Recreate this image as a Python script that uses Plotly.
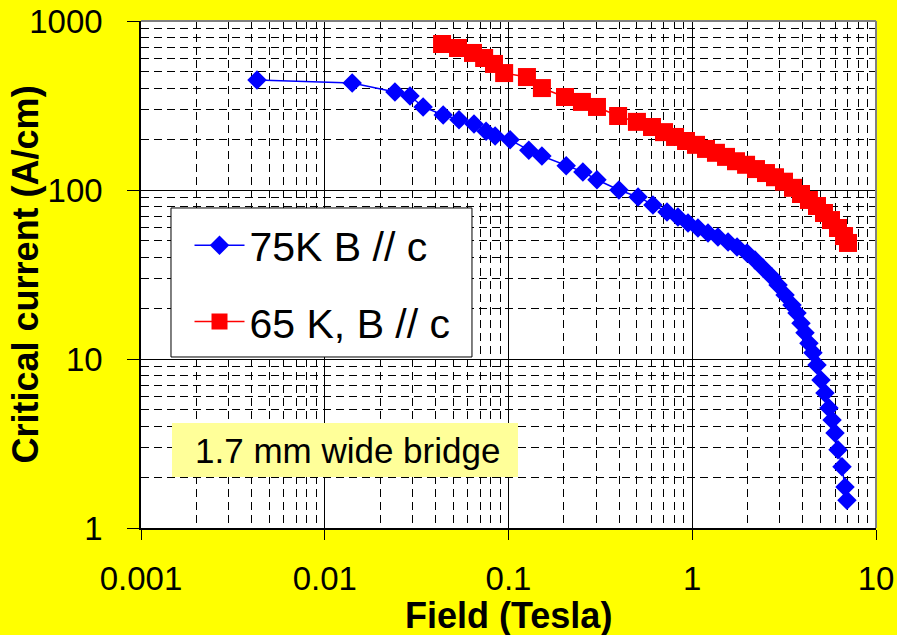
import plotly.graph_objects as go

# Critical current vs applied field, 1.7 mm wide bridge
field_75k = [0.00428, 0.0141, 0.0241, 0.0291, 0.0343, 0.0441, 0.0538, 0.0649, 0.0755,
             0.0846, 0.102, 0.129, 0.152, 0.206, 0.254, 0.303, 0.399, 0.507, 0.611,
             0.729, 0.836, 0.948, 1.074, 1.218, 1.380, 1.566, 1.753, 1.986, 2.195,
             2.427, 2.716, 2.930, 3.199, 3.490, 3.716, 3.907, 4.109, 4.315, 4.538,
             4.775, 5.018, 5.275, 5.546, 5.765, 5.984, 6.21, 6.53, 6.78, 6.95]
ic_75k = [448, 430, 380, 360, 310, 278, 260, 246, 223,
          209, 198, 172, 159, 139, 128, 115, 100, 91, 81.5,
          74.1, 69.2, 63.8, 59.6, 55.7, 52.7, 49.2, 46.0, 42.4, 38.5,
          34.5, 30.6, 27.4, 23.9, 20.9, 18.7, 16.3, 14.3, 12.4, 10.9,
          9.21, 7.51, 6.29, 5.13, 4.35, 3.65, 2.90, 2.30, 1.75, 1.46]

field_65k = [0.0435, 0.0531, 0.0641, 0.0737, 0.0834, 0.0947, 0.126, 0.152, 0.203,
             0.251, 0.303, 0.395, 0.500, 0.604, 0.702, 0.806, 0.925, 1.048, 1.188,
             1.346, 1.527, 1.730, 1.963, 2.223, 2.519, 2.820, 3.158, 3.533, 3.907,
             4.315, 4.775, 5.21, 5.69, 6.21, 6.70, 7.04]
ic_65k = [731, 692, 647, 604, 557, 492, 466, 401, 355,
          332, 310, 274, 253, 236, 220, 206, 195, 185, 175,
          166, 157, 148, 141, 133, 126, 119, 112, 103, 94.7,
          87.3, 80.4, 73.1, 66.4, 59.6, 53.4, 48.6]

x_ticks = [0.001, 0.01, 0.1, 1, 10]
x_tick_text = ["0.001", "0.01", "0.1", "1", "10"]
y_ticks = [1, 10, 100, 1000]
y_tick_text = ["1", "10", "100", "1000"]

FONT = "Liberation Sans, Arial, sans-serif"

fig = go.Figure()
fig.add_trace(go.Scatter(
    x=field_75k, y=ic_75k, mode="lines+markers", name="75K B // c",
    legendgroup="a",
    line=dict(color="#0000FF", width=1.5),
    marker=dict(symbol="diamond", size=15, color="#0000FF"),
))
fig.add_trace(go.Scatter(
    x=field_65k, y=ic_65k, mode="lines+markers", name="65 K, B // c",
    legendgroup="b",
    line=dict(color="#FF0000", width=1.5),
    marker=dict(symbol="square", size=18, color="#FF0000"),
))

grid_minor = dict(showgrid=True, dtick="D1", gridcolor="#000000", gridwidth=1,
                  griddash="8px,5px", ticklen=0)

fig.update_xaxes(
    type="log", range=[-3, 1], automargin=False,
    tickvals=x_ticks, ticktext=x_tick_text,
    ticks="outside", ticklen=10, tickcolor="#000000", tickwidth=1,
    tickfont=dict(family=FONT, size=33, color="#000000"),
    ticklabelstandoff=11,
    showline=True, linecolor="#000000", linewidth=1.5,
    showgrid=True, gridcolor="#000000", gridwidth=1,
    minor=grid_minor, zeroline=False,
)
fig.update_yaxes(
    type="log", range=[0, 3], automargin=False,
    tickvals=y_ticks, ticktext=y_tick_text,
    ticks="outside", ticklen=12, tickcolor="#000000", tickwidth=1,
    tickfont=dict(family=FONT, size=33, color="#000000"),
    ticklabelstandoff=18,
    showline=True, linecolor="#000000", linewidth=1.5,
    showgrid=True, gridcolor="#000000", gridwidth=1,
    minor=grid_minor, zeroline=False,
)

# plot-area frame (top and right edges), legend frame and label box
shapes = [
    dict(type="line", xref="paper", yref="paper", x0=0, x1=1, y0=1, y1=1,
         line=dict(color="#808080", width=2), layer="above"),
    dict(type="line", xref="paper", yref="paper", x0=1, x1=1, y0=0, y1=1,
         line=dict(color="#808080", width=2), layer="above"),
    dict(type="rect", xref="paper", yref="paper",
         x0=0.0408, x1=0.4503, y0=0.3373, y1=0.6312,
         line=dict(color="#000000", width=1), fillcolor="#FFFFFF", layer="above"),
    dict(type="rect", xref="paper", yref="paper",
         x0=0.0422, x1=0.5129, y0=0.1006, y1=0.2071,
         line=dict(width=0), fillcolor="#FFFF99", layer="above"),
]

annotations = [
    dict(text="1.7 mm wide bridge", xref="paper", yref="paper",
         x=0.0707, y=0.1538, xanchor="left", yanchor="middle", showarrow=False,
         font=dict(family=FONT, size=35, color="#000000")),
    dict(text="<b>Field (Tesla)</b>", xref="paper", yref="paper",
         x=0.5, y=-0.172, xanchor="center", yanchor="middle", showarrow=False,
         font=dict(family=FONT, size=36, color="#000000")),
    dict(text="<b>Critical current (A/cm)</b>", xref="paper", yref="paper",
         x=-0.1565, y=0.5, xanchor="center", yanchor="middle", showarrow=False,
         textangle=-90,
         font=dict(family=FONT, size=36, color="#000000")),
]

fig.update_layout(
    width=897, height=635,
    margin=dict(l=141, r=21, t=21, b=107, autoexpand=False),
    paper_bgcolor="#FFFF00", plot_bgcolor="#FFFFFF",
    showlegend=True,
    legend=dict(x=0.066, y=0.623, xanchor="left", yanchor="top",
                bgcolor="rgba(0,0,0,0)", borderwidth=0,
                font=dict(family=FONT, size=41, color="#000000"),
                itemwidth=50, tracegroupgap=20),
    shapes=shapes, annotations=annotations,
)

fig.write_html("out.html")
